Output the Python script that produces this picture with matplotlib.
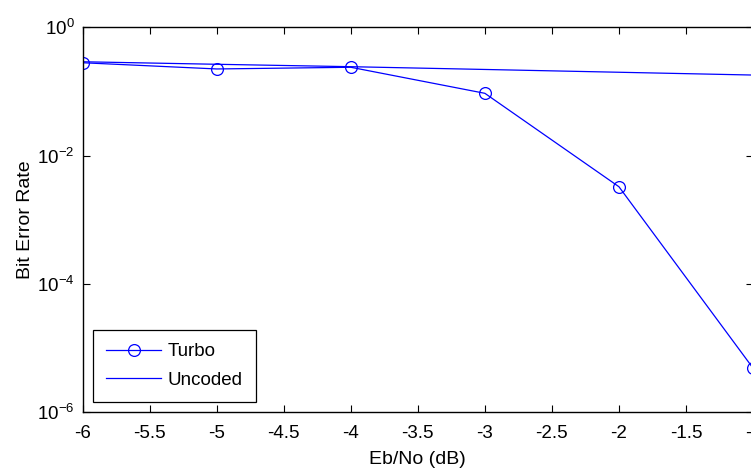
import matplotlib
matplotlib.use("Agg")
import matplotlib.pyplot as plt
from matplotlib.ticker import FixedLocator, LogFormatterMathtext, NullLocator

plt.rcParams['font.family'] = ['Liberation Sans', 'DejaVu Sans']
plt.rcParams['mathtext.default'] = 'regular'

ebno = [-6, -5, -4, -3, -2, -1]
ber_turbo = [0.28, 0.224, 0.238, 0.0934, 3.26e-3, 4.84e-6]
ber_uncoded = [0.29, 0.265, 0.243, 0.22, 0.199, 0.18]
xticks = [-6, -5.5, -5, -4.5, -4, -3.5, -3, -2.5, -2, -1.5, -1]
yticks = [1e-6, 1e-4, 1e-2, 1e0]

fig = plt.figure(figsize=(7.51, 4.75), dpi=100)
ax = fig.add_axes([82.7/751, (475-412)/475, (753-82.7)/751, (412-27.3)/475])

ax.semilogy(ebno, ber_turbo, color='#0000ff', lw=0.9, marker='o', ms=8.5,
            mfc='none', mec='#0000ff', mew=0.9, label='Turbo')
ax.semilogy(ebno, ber_uncoded, color='#0000ff', lw=0.9, label='Uncoded')

ax.set_xlim(-6, -1)
ax.set_ylim(1e-6, 1e0)
ax.xaxis.set_major_locator(FixedLocator(xticks))
ax.set_xticklabels([('%g' % t) for t in xticks])
ax.yaxis.set_major_locator(FixedLocator(yticks))
ax.yaxis.set_major_formatter(LogFormatterMathtext())
ax.yaxis.set_minor_locator(NullLocator())

ax.tick_params(direction='in', length=5, width=0.8, top=True, right=True,
               labelsize=13.5)
ax.tick_params(axis='x', pad=9)
ax.tick_params(axis='y', pad=6)
for s in ax.spines.values():
    s.set_linewidth(1.0)

ax.set_xlabel('Eb/No (dB)', fontsize=14, labelpad=7)
ax.set_ylabel('Bit Error Rate', fontsize=14, labelpad=2)

leg = ax.legend(loc='lower left', fontsize=13.5, fancybox=False, framealpha=1,
                edgecolor='black', borderpad=0.7, handlelength=2.95,
                handletextpad=0.35, labelspacing=0.62, borderaxespad=0,
                bbox_to_anchor=(0.015, 0.026))
leg.get_frame().set_linewidth(0.9)

fig.savefig('out.png', dpi=100)
